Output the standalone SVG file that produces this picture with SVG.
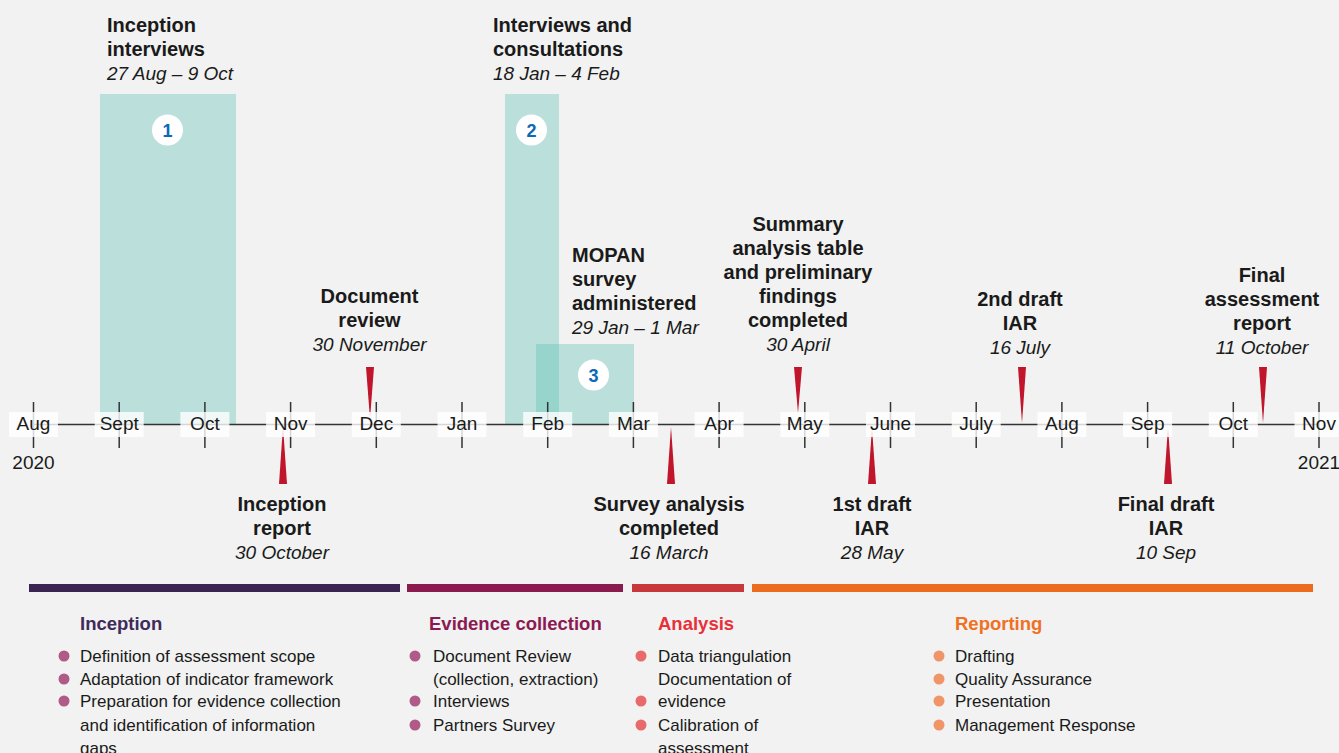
<svg xmlns="http://www.w3.org/2000/svg" width="1339" height="753" viewBox="0 0 1339 753">
<style>
text{font-family:"Liberation Sans",Arial,sans-serif;fill:#1a1a1a}
.t{font-size:20px;font-weight:bold}
.d{font-size:19px;font-style:italic}
.m{font-size:19px;text-anchor:middle}
.c{text-anchor:middle}
.box{fill:#ffffff;fill-opacity:0.8}
.tick{stroke:#333;stroke-width:1.5}
.teal{fill:#4bbaaf;fill-opacity:0.32}
.spike{fill:#c0152a}
.num{font-size:18px;font-weight:bold;fill:#0a6ab5;text-anchor:middle}
.h{font-size:18.5px;font-weight:bold}
.b{font-size:17px}
</style>
<rect width="1339" height="753" fill="#f1f2f1"/>
<g id="periods">
<rect class="teal" x="100" y="94" width="136" height="330"/>
<rect class="teal" x="505" y="94" width="54" height="330"/>
<rect class="teal" x="536" y="344" width="98" height="80"/>
<circle cx="167.5" cy="130" r="15.5" fill="#fff"/>
<text class="num" x="167.5" y="136.5">1</text>
<circle cx="531.5" cy="130" r="15.5" fill="#fff"/>
<text class="num" x="531.5" y="136.5">2</text>
<circle cx="593.5" cy="375" r="15.5" fill="#fff"/>
<text class="num" x="593.5" y="381.5">3</text>
</g>
<g id="axis">
<line x1="33.5" y1="424.5" x2="1319" y2="424.5" stroke="#333" stroke-width="1.5"/>
<g class="tick">
<line x1="33.5" y1="402" x2="33.5" y2="448"/><line x1="119.2" y1="402" x2="119.2" y2="448"/><line x1="204.9" y1="402" x2="204.9" y2="448"/><line x1="290.6" y1="402" x2="290.6" y2="448"/><line x1="376.3" y1="402" x2="376.3" y2="448"/><line x1="462" y1="402" x2="462" y2="448"/><line x1="547.7" y1="402" x2="547.7" y2="448"/><line x1="633.4" y1="402" x2="633.4" y2="448"/><line x1="719.1" y1="402" x2="719.1" y2="448"/><line x1="804.8" y1="402" x2="804.8" y2="448"/><line x1="890.5" y1="402" x2="890.5" y2="448"/><line x1="976.2" y1="402" x2="976.2" y2="448"/><line x1="1061.9" y1="402" x2="1061.9" y2="448"/><line x1="1147.6" y1="402" x2="1147.6" y2="448"/><line x1="1233.3" y1="402" x2="1233.3" y2="448"/><line x1="1319" y1="402" x2="1319" y2="448"/>
</g>
</g>
<g id="connectors">
<polygon class="spike" points="366,367 374,367 370,419"/>
<polygon class="spike" points="279,484 287,484 283,426"/>
<polygon class="spike" points="667,484 675,484 671,427"/>
<polygon class="spike" points="794,367 802,367 798,413"/>
<polygon class="spike" points="868,484 876,484 872,428"/>
<polygon class="spike" points="1018,367 1026,367 1022,423"/>
<polygon class="spike" points="1164,484 1172,484 1168,427"/>
<polygon class="spike" points="1259,367 1267,367 1263,423"/>
</g>
<g id="months">
<rect class="box" x="9" y="412" width="49" height="25"/><text class="m" x="33.5" y="430">Aug</text>
<rect class="box" x="94.7" y="412" width="49" height="25"/><text class="m" x="119.2" y="430">Sept</text>
<rect class="box" x="180.4" y="412" width="49" height="25"/><text class="m" x="204.9" y="430">Oct</text>
<rect class="box" x="266.1" y="412" width="49" height="25"/><text class="m" x="290.6" y="430">Nov</text>
<rect class="box" x="351.8" y="412" width="49" height="25"/><text class="m" x="376.3" y="430">Dec</text>
<rect class="box" x="437.5" y="412" width="49" height="25"/><text class="m" x="462" y="430">Jan</text>
<rect class="box" x="523.2" y="412" width="49" height="25"/><text class="m" x="547.7" y="430">Feb</text>
<rect class="box" x="608.9" y="412" width="49" height="25"/><text class="m" x="633.4" y="430">Mar</text>
<rect class="box" x="694.6" y="412" width="49" height="25"/><text class="m" x="719.1" y="430">Apr</text>
<rect class="box" x="780.3" y="412" width="49" height="25"/><text class="m" x="804.8" y="430">May</text>
<rect class="box" x="866" y="412" width="49" height="25"/><text class="m" x="890.5" y="430">June</text>
<rect class="box" x="951.7" y="412" width="49" height="25"/><text class="m" x="976.2" y="430">July</text>
<rect class="box" x="1037.4" y="412" width="49" height="25"/><text class="m" x="1061.9" y="430">Aug</text>
<rect class="box" x="1123.1" y="412" width="49" height="25"/><text class="m" x="1147.6" y="430">Sep</text>
<rect class="box" x="1208.8" y="412" width="49" height="25"/><text class="m" x="1233.3" y="430">Oct</text>
<rect class="box" x="1294.5" y="412" width="49" height="25"/><text class="m" x="1319" y="430">Nov</text>
<text class="m" x="33.5" y="469">2020</text>
<text class="m" x="1319" y="469">2021</text>
</g>
<g id="inception-interviews">
<text class="t" x="107" y="32">Inception</text>
<text class="t" x="107" y="56">interviews</text>
<text class="d" x="107" y="80">27 Aug – 9 Oct</text>
</g>
<g id="interviews-consultations">
<text class="t" x="493" y="32">Interviews and</text>
<text class="t" x="493" y="56">consultations</text>
<text class="d" x="493" y="80">18 Jan – 4 Feb</text>
</g>
<g id="mopan-survey">
<text class="t" x="572" y="262">MOPAN</text>
<text class="t" x="572" y="286">survey</text>
<text class="t" x="572" y="310">administered</text>
<text class="d" x="572" y="334">29 Jan – 1 Mar</text>
</g>
<g id="document-review" class="c">
<text class="t c" x="369.5" y="303">Document</text>
<text class="t c" x="369.5" y="327">review</text>
<text class="d c" x="369.5" y="351">30 November</text>
</g>
<g id="summary-table">
<text class="t c" x="798" y="231">Summary</text>
<text class="t c" x="798" y="255">analysis table</text>
<text class="t c" x="798" y="279">and preliminary</text>
<text class="t c" x="798" y="303">findings</text>
<text class="t c" x="798" y="327">completed</text>
<text class="d c" x="798" y="351">30 April</text>
</g>
<g id="second-draft">
<text class="t c" x="1020" y="306">2nd draft</text>
<text class="t c" x="1020" y="330">IAR</text>
<text class="d c" x="1020" y="354">16 July</text>
</g>
<g id="final-report">
<text class="t c" x="1262" y="282">Final</text>
<text class="t c" x="1262" y="306">assessment</text>
<text class="t c" x="1262" y="330">report</text>
<text class="d c" x="1262" y="354">11 October</text>
</g>
<g id="inception-report">
<text class="t c" x="282" y="511">Inception</text>
<text class="t c" x="282" y="535">report</text>
<text class="d c" x="282" y="559">30 October</text>
</g>
<g id="survey-analysis">
<text class="t c" x="669" y="511">Survey analysis</text>
<text class="t c" x="669" y="535">completed</text>
<text class="d c" x="669" y="559">16 March</text>
</g>
<g id="first-draft">
<text class="t c" x="872" y="511">1st draft</text>
<text class="t c" x="872" y="535">IAR</text>
<text class="d c" x="872" y="559">28 May</text>
</g>
<g id="final-draft">
<text class="t c" x="1166" y="511">Final draft</text>
<text class="t c" x="1166" y="535">IAR</text>
<text class="d c" x="1166" y="559">10 Sep</text>
</g>
<g id="phase-inception">
<rect x="29" y="584" width="371" height="8" fill="#3a2452"/>
<text class="h" x="80" y="630" style="fill:#3f2a5c">Inception</text>
<g fill="#b05a87"><circle cx="64" cy="656" r="5.5"/><circle cx="64" cy="679" r="5.5"/><circle cx="64" cy="701" r="5.5"/></g>
<text class="b" x="80" y="662">Definition of assessment scope</text>
<text class="b" x="80" y="685">Adaptation of indicator framework</text>
<text class="b" x="80" y="707">Preparation for evidence collection</text>
<text class="b" x="80" y="731">and identification of information</text>
<text class="b" x="80" y="754">gaps</text>
</g>
<g id="phase-evidence">
<rect x="407" y="584" width="216" height="8" fill="#8b1a4f"/>
<text class="h" x="429" y="630" style="fill:#8b1a52">Evidence collection</text>
<g fill="#b05a87"><circle cx="415" cy="656" r="5.5"/><circle cx="415" cy="701" r="5.5"/><circle cx="415" cy="725" r="5.5"/></g>
<text class="b" x="433" y="662">Document Review</text>
<text class="b" x="433" y="685">(collection, extraction)</text>
<text class="b" x="433" y="707">Interviews</text>
<text class="b" x="433" y="731">Partners Survey</text>
</g>
<g id="phase-analysis">
<rect x="632" y="584" width="112" height="8" fill="#c8373a"/>
<text class="h" x="658" y="630" style="fill:#e8303a">Analysis</text>
<g fill="#e86a6a"><circle cx="641" cy="656" r="5.5"/><circle cx="641" cy="701" r="5.5"/><circle cx="641" cy="725" r="5.5"/></g>
<text class="b" x="658" y="662">Data triangulation</text>
<text class="b" x="658" y="685">Documentation of</text>
<text class="b" x="658" y="707">evidence</text>
<text class="b" x="658" y="731">Calibration of</text>
<text class="b" x="658" y="754">assessment</text>
</g>
<g id="phase-reporting">
<rect x="752" y="584" width="561" height="8" fill="#ec6b1f"/>
<text class="h" x="955" y="630" style="fill:#ef7125">Reporting</text>
<g fill="#f0956a"><circle cx="939" cy="656" r="5.5"/><circle cx="939" cy="679" r="5.5"/><circle cx="939" cy="701" r="5.5"/><circle cx="939" cy="725" r="5.5"/></g>
<text class="b" x="955" y="662">Drafting</text>
<text class="b" x="955" y="685">Quality Assurance</text>
<text class="b" x="955" y="707">Presentation</text>
<text class="b" x="955" y="731">Management Response</text>
</g>
</svg>
